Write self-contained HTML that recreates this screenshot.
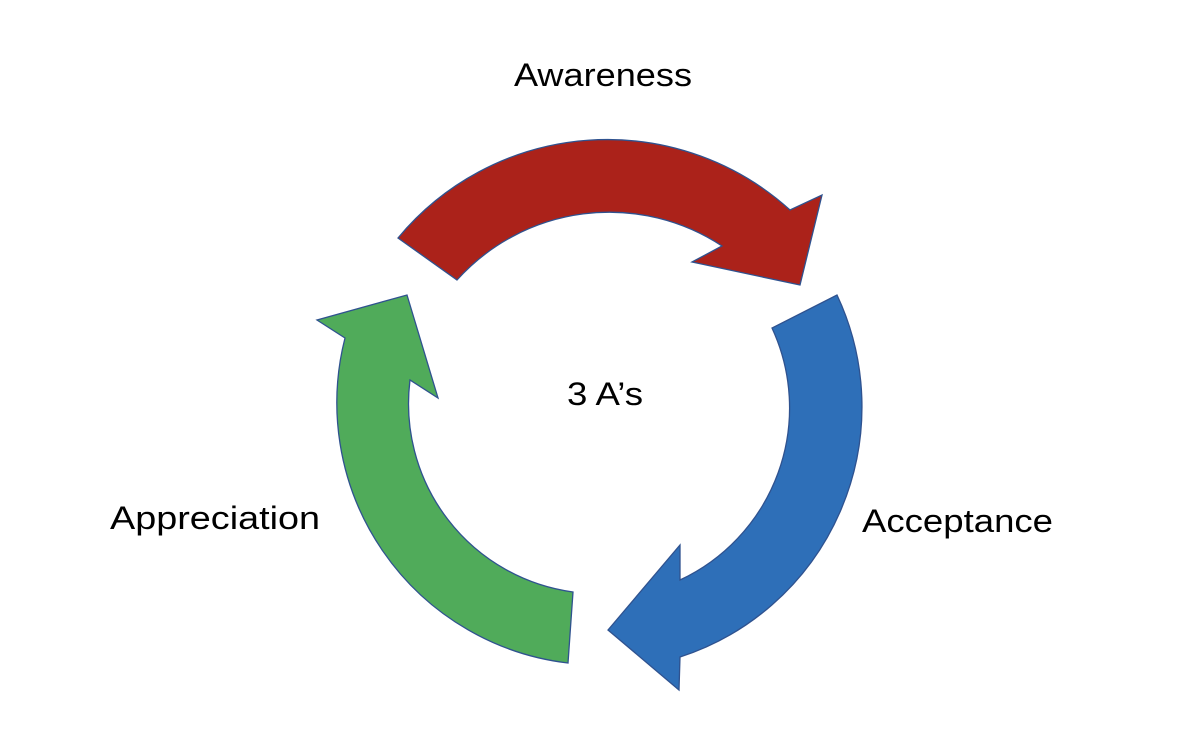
<!DOCTYPE html>
<html><head><meta charset="utf-8"><style>
html,body{margin:0;padding:0;background:#fff;}
svg{display:block;}
text{font-family:"Liberation Sans",sans-serif;fill:#000;}
</style></head><body>
<svg width="1186" height="742" viewBox="0 0 1186 742" xmlns="http://www.w3.org/2000/svg">
<g stroke="#2f528f" stroke-width="1.3" stroke-linejoin="miter">
<path fill="#ab221a" d="M398,238 A272,272 0 0 1 790,210 L822,195 L800,285 L692,262 L722,246 A205,205 0 0 0 457,280 Z"/>
<path fill="#2e6fb8" d="M837,295 A263,263 0 0 1 680,657 L679,690 L608,630 L680,545 L680,580 A190,190 0 0 0 772,328 Z"/>
<path fill="#50ab5a" d="M568,663 A262,262 0 0 1 345,338 L317,320 L407,295 L438,398 L410,380 A190,190 0 0 0 573,592 Z"/>
</g>
<text x="514" y="86" font-size="32" textLength="178" lengthAdjust="spacingAndGlyphs">Awareness</text>
<text x="567" y="405" font-size="32" textLength="76" lengthAdjust="spacingAndGlyphs">3 A’s</text>
<text x="110" y="529" font-size="32" textLength="210" lengthAdjust="spacingAndGlyphs">Appreciation</text>
<text x="862" y="532" font-size="32" textLength="191" lengthAdjust="spacingAndGlyphs">Acceptance</text>
</svg>
</body></html>
